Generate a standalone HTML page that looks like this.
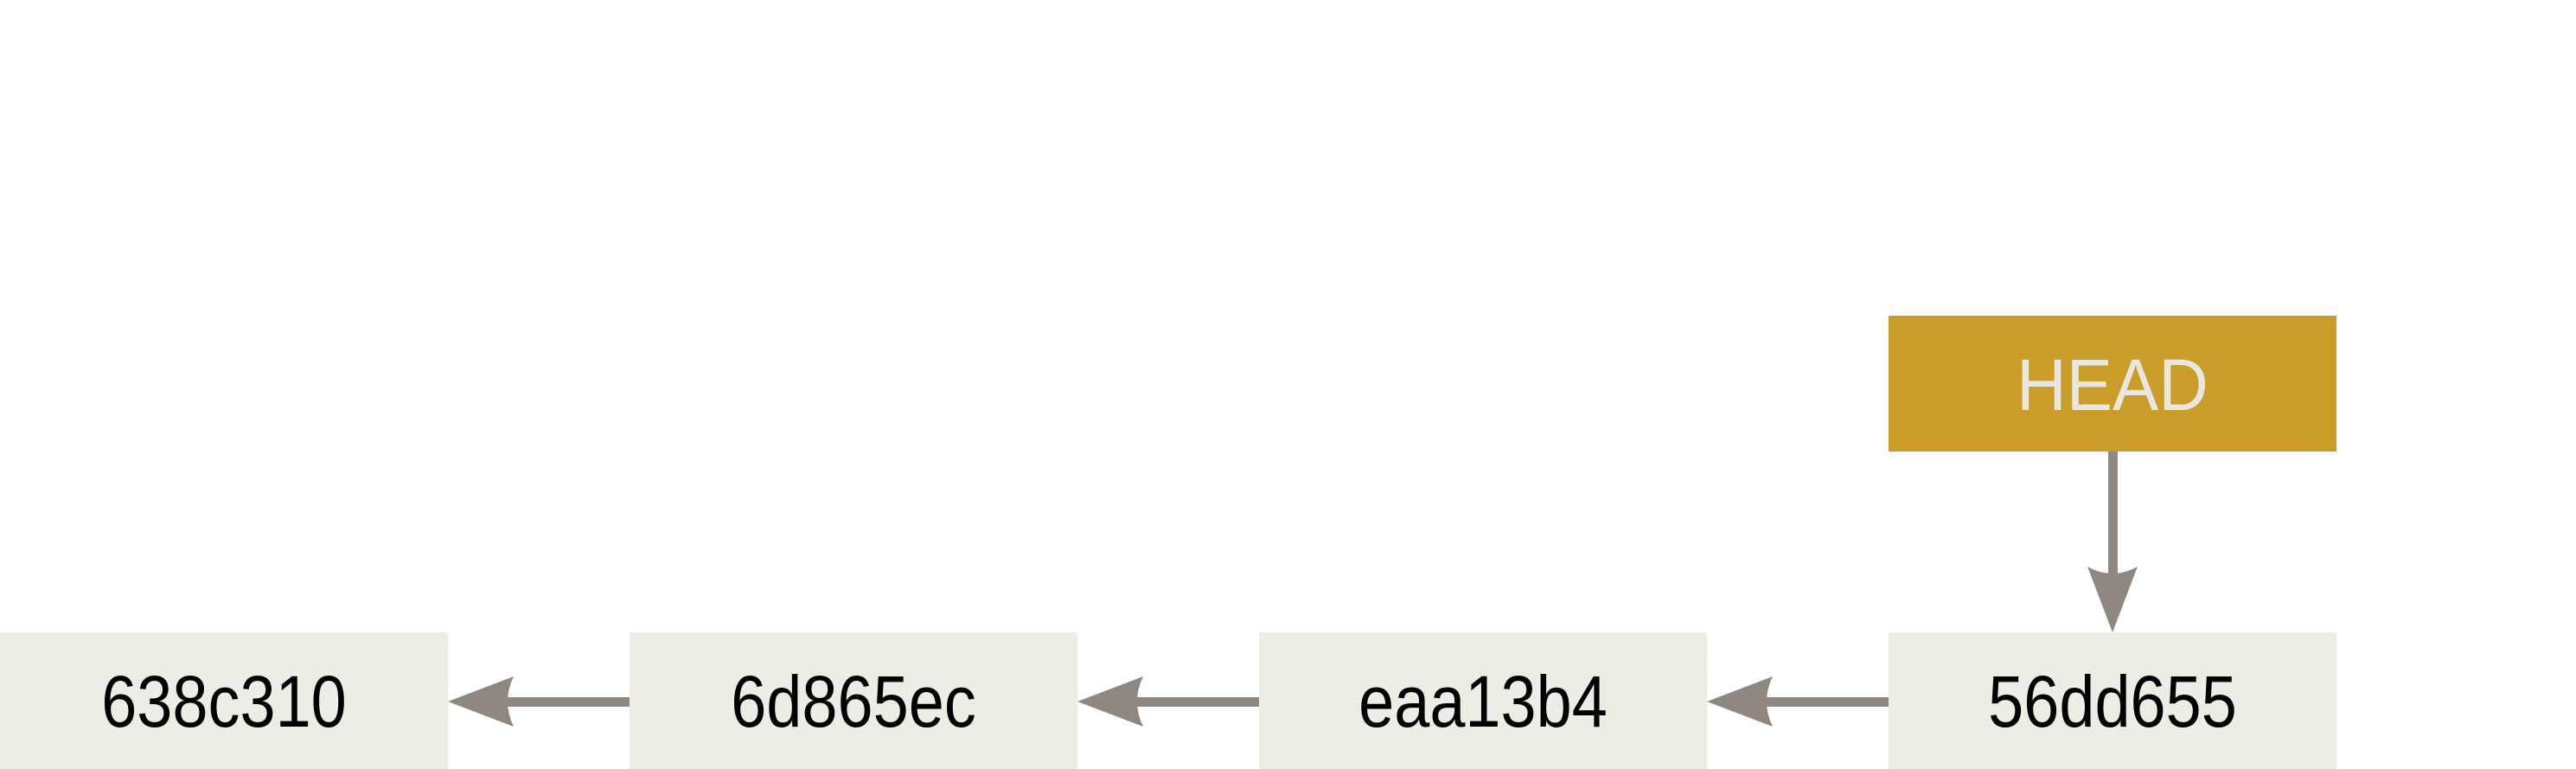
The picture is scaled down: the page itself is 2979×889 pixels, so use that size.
<!DOCTYPE html>
<html><head><style>
html,body{margin:0;padding:0;background:#fff;width:2979px;height:889px;overflow:hidden}
svg text{font-family:"Liberation Sans",sans-serif;font-size:84px}
</style></head><body>
<svg width="2979" height="889" xmlns="http://www.w3.org/2000/svg">
<rect x="0" y="731" width="518" height="158" fill="#edece5"/>
<rect x="728" y="731" width="518" height="158" fill="#edece5"/>
<rect x="1456" y="731" width="518" height="158" fill="#edece5"/>
<rect x="2184" y="731" width="518" height="158" fill="#edece5"/>
<rect x="2184" y="365" width="518" height="157" fill="#c99d27"/>
<g fill="#000" text-anchor="middle">
<text x="259" y="840" transform="translate(259 0) scale(0.88 1) translate(-259 0)">638c310</text>
<text x="987" y="840" transform="translate(987 0) scale(0.88 1) translate(-987 0)">6d865ec</text>
<text x="1715" y="840" transform="translate(1715 0) scale(0.88 1) translate(-1715 0)">eaa13b4</text>
<text x="2443" y="840" transform="translate(2443 0) scale(0.88 1) translate(-2443 0)">56dd655</text>
<text x="2443" y="474" fill="#e8e6df" transform="translate(2443 0) scale(0.95 1) translate(-2443 0)">HEAD</text>
</g>
<g fill="#8e8880" stroke="none">
<rect x="585" y="806" width="143" height="11"/>
<path d="M518 811 L594 782 Q580 811 594 840 Z"/>
<rect x="1313" y="806" width="143" height="11"/>
<path d="M1246 811 L1322 782 Q1308 811 1322 840 Z"/>
<rect x="2041" y="806" width="143" height="11"/>
<path d="M1974 811 L2050 782 Q2036 811 2050 840 Z"/>
<rect x="2438" y="522" width="11" height="145"/>
<path d="M2443 731 L2414 655 Q2443 671 2472 655 Z"/>
</g>
</svg>
</body></html>
